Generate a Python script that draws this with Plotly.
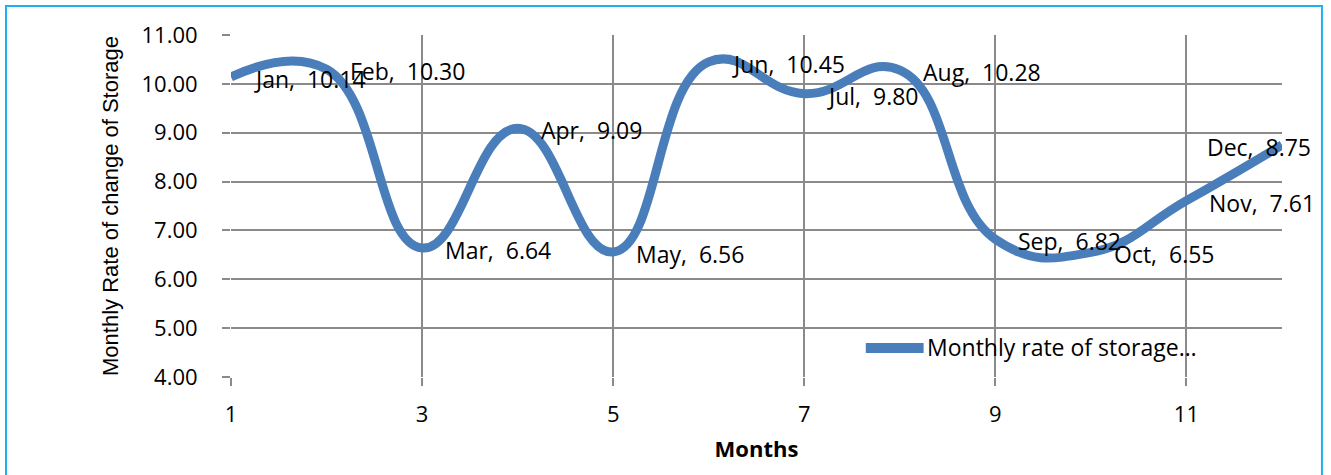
import plotly.graph_objects as go

# Monthly rate of change of storage
months = ["Jan", "Feb", "Mar", "Apr", "May", "Jun",
          "Jul", "Aug", "Sep", "Oct", "Nov", "Dec"]
month_index = [1, 2, 3, 4, 5, 6, 7, 8, 9, 10, 11, 12]
rate = [10.14, 10.30, 6.64, 9.09, 6.56, 10.45,
        9.80, 10.28, 6.82, 6.55, 7.61, 8.75]
series_name = "Monthly rate of storage\u2026"

x_ticks = [1, 3, 5, 7, 9, 11]
y_ticks = [4, 5, 6, 7, 8, 9, 10, 11]

LINE = "#4a7ebb"
GRID = "#8a8a8a"
TEXT_FONT = "Open Sans, Lato, sans-serif"

fig = go.Figure()
fig.add_trace(go.Scatter(
    x=month_index, y=rate, mode="lines", name=series_name,
    line=dict(color=LINE, width=9, shape="spline", smoothing=1.3),
    showlegend=False, hoverinfo="x+y",
))

# Data labels "Mon,  value" to the right of each point (last one kept inside the frame)
for i, (m, xv, v) in enumerate(zip(months, month_index, rate)):
    last = i == len(months) - 1
    fig.add_annotation(
        x=xv, y=v, xref="x", yref="y",
        text=f"{m},\u00a0 {v:.2f}", showarrow=False,
        xanchor="right" if last else "left",
        xshift=31 if last else 21, yshift=-2,
        font=dict(family=TEXT_FONT, size=23, color="#000000"),
    )

# Legend drawn inside the plot area
fig.add_shape(type="line", xref="paper", yref="paper",
              x0=0.604, x1=0.659, y0=0.085, y1=0.085,
              line=dict(color=LINE, width=10))
fig.add_annotation(xref="paper", yref="paper", x=0.660, y=0.085,
                   text=series_name, showarrow=False,
                   xanchor="left", yanchor="middle", yshift=1,
                   font=dict(family=TEXT_FONT, size=23, color="#000000"))

# Light blue frame around the chart
fig.add_shape(type="rect", xref="paper", yref="paper",
              x0=-0.2141, x1=1.038, y0=-0.40, y1=1.0848,
              line=dict(color="#1fb0ee", width=2), fillcolor="rgba(0,0,0,0)",
              layer="above")

fig.update_layout(
    width=1331, height=475,
    margin=dict(l=231, r=49, t=35, b=98),
    paper_bgcolor="white", plot_bgcolor="white",
    font=dict(family=TEXT_FONT, size=22, color="#000000"),
    showlegend=False,
    xaxis=dict(
        range=[1, 12], tickmode="array", tickvals=x_ticks,
        ticktext=[str(t) for t in x_ticks],
        showgrid=True, gridcolor=GRID, gridwidth=2,
        ticks="outside", ticklen=8, tickwidth=2, tickcolor=GRID,
        ticklabelstandoff=10,
        showline=False, zeroline=False,
        tickfont=dict(family=TEXT_FONT, size=22),
        title=dict(text="<b>Months</b>", standoff=14,
                   font=dict(family=TEXT_FONT, size=22)),
    ),
    yaxis=dict(
        range=[4, 11], tickmode="array", tickvals=y_ticks,
        ticktext=[f"{t:.2f}" for t in y_ticks],
        showgrid=True, gridcolor=GRID, gridwidth=2,
        ticks="outside", ticklen=8, tickwidth=2, tickcolor=GRID,
        ticklabelstandoff=20,
        showline=False, zeroline=False,
        tickfont=dict(family=TEXT_FONT, size=22),
        title=dict(text="Monthly Rate of change of Storage", standoff=16,
                   font=dict(family="Liberation Sans, Arial, sans-serif", size=22)),
    ),
)

fig.write_html("out.html")
